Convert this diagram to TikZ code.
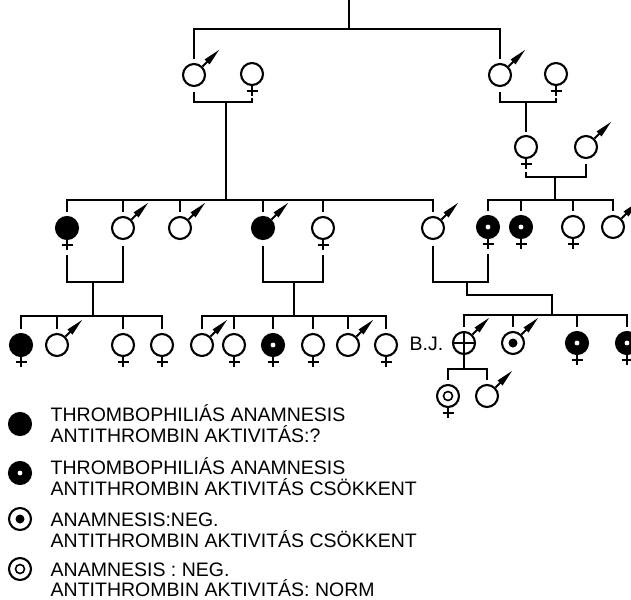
\documentclass[tikz,border=0pt]{standalone}
\usepackage{fontspec}
\setmainfont{Liberation Sans}

\begin{document}
\begin{tikzpicture}[x=1pt, y=-1pt, line width=1.4pt,
  ind/.style={circle, draw, line width=2.1pt, minimum size=22pt, inner sep=0pt},
  thrombo/.style={fill=black},
  reduced/.style={fill=black, path picture={\fill[white] (path picture bounding box.center) circle (2.4pt);}},
  carrier/.style={path picture={\fill (path picture bounding box.center) circle (4.5pt);}},
  normring/.style={path picture={\draw[line width=1.6pt] (path picture bounding box.center) circle (4.5pt);}},
  probandx/.style={path picture={\draw[line width=1.4pt] (path picture bounding box.north) -- (path picture bounding box.south) (path picture bounding box.west) -- (path picture bounding box.east);}},
  legtext/.style={anchor=base west, inner sep=0pt, font=\fontsize{19.5}{21}\selectfont}]
  \useasboundingbox (0,0) rectangle (631,599);

  % generation I
  \node[ind] (g1m1) at (194,75) {};
  \node[ind] (g1f1) at (252,74) {};
  \node[ind] (g1m2) at (500,75) {};
  \node[ind] (g1f2) at (556,74) {};
  % generation II
  \node[ind] (g2f) at (526,147) {};
  \node[ind] (g2m) at (586,147) {};
  % generation III
  \node[ind, thrombo] (a1) at (67,228) {};
  \node[ind] (a2) at (123,228) {};
  \node[ind] (a3) at (180,228) {};
  \node[ind, thrombo] (a4) at (263,228) {};
  \node[ind] (a5) at (323,228) {};
  \node[ind] (a6) at (433,228) {};
  \node[ind, reduced] (b1) at (488,227) {};
  \node[ind, reduced] (b2) at (521,227) {};
  \node[ind] (b3) at (573,227) {};
  \node[ind] (b4) at (613,227) {};
  % generation IV
  \node[ind, thrombo] (c1) at (21,345) {};
  \node[ind] (c2) at (57,345) {};
  \node[ind] (c3) at (123,345) {};
  \node[ind] (c4) at (162,345) {};
  \node[ind] (d1) at (202,345) {};
  \node[ind] (d2) at (234,345) {};
  \node[ind, reduced] (d3) at (273,345) {};
  \node[ind] (d4) at (313,345) {};
  \node[ind] (d5) at (348,345) {};
  \node[ind] (d6) at (386,345) {};
  \node[ind, probandx] (e1) at (464,343) {};
  \node[ind, carrier] (e2) at (513,343) {};
  \node[ind, reduced] (e3) at (577,343) {};
  \node[ind, reduced] (e4) at (627,343) {};
  \node[legtext, anchor=base east] (bj) at (444,350) {B.J.};
  % generation V
  \node[ind, normring] (f1) at (448,396) {};
  \node[ind] (f2) at (487,396) {};

  % sex marks: stem and dart for males, cross for females
  \foreach \n in {g1m1,g1m2,g2m,a2,a3,a4,a6,b4,c2,d1,d5,e1,e2,f2} {
    \draw[line width=1.9pt] (\n.45) -- ++(6,-6);
    \fill (\n.center) ++(15.5,-10.5) -- ++(-5,-5) -- ++(14.5,-9.5) -- cycle;
  }
  \foreach \n in {g1f1,g1f2,g2f,a1,a5,b1,b2,b3,c1,c3,c4,d2,d3,d4,d6,e3,e4,f1}
    \draw[line width=1.6pt] (\n.south) -- ++(0,10) (\n.south) ++(-5.5,5) -- ++(11,0);

  % lines of descent
  \coordinate (top) at (349,0);
  \coordinate (s0) at (349,29);
  \draw (top) -- (s0);
  \draw ([yshift=4pt]g1m1.north) |- (s0) -| ([yshift=4pt]g1m2.north);

  \coordinate (m1) at (226,102);
  \coordinate (s1) at (226,200);
  \draw ([yshift=-5pt]g1m1.south) |- (m1) -| ([yshift=-12pt]g1f1.south);
  \draw (m1) -- (s1);
  \draw ([yshift=4pt]a1.north) |- (s1) -| ([yshift=4pt]a6.north);
  \foreach \n in {a2,a3,a4,a5}
    \draw ([yshift=4pt]\n.north) -- (\n |- s1);

  \coordinate (m2) at (526,102);
  \draw ([yshift=-5pt]g1m2.south) |- (m2) -| ([yshift=-12pt]g1f2.south);
  \draw (m2) -- ([yshift=3pt]g2f.north);
  \coordinate (m3) at (555,177);
  \coordinate (s2) at (555,200);
  \draw ([yshift=-13pt]g2f.south) |- (m3) -| ([yshift=-5pt]g2m.south);
  \draw (m3) -- (s2);
  \draw ([yshift=4pt]b1.north) |- (s2) -| ([yshift=4pt]b4.north);
  \foreach \n in {b2,b3}
    \draw ([yshift=4pt]\n.north) -- (\n |- s2);

  \coordinate (m4) at (93,282);
  \coordinate (s3) at (93,316);
  \draw ([yshift=-15pt]a1.south) |- (m4) -| ([yshift=-6pt]a2.south);
  \draw (m4) -- (s3);
  \draw ([yshift=4pt]c1.north) |- (s3) -| ([yshift=4pt]c4.north);
  \foreach \n in {c2,c3}
    \draw ([yshift=4pt]\n.north) -- (\n |- s3);

  \coordinate (m5) at (294,282);
  \coordinate (s4) at (294,316);
  \draw ([yshift=-6pt]a4.south) |- (m5) -| ([yshift=-15pt]a5.south);
  \draw (m5) -- (s4);
  \draw ([yshift=4pt]d1.north) |- (s4) -| ([yshift=4pt]d6.north);
  \foreach \n in {d2,d3,d4,d5}
    \draw ([yshift=4pt]\n.north) -- (\n |- s4);

  \coordinate (m6) at (467,282);
  \coordinate (j6) at (467,295);
  \coordinate (s5) at (552,315);
  \draw ([yshift=-6pt]a6.south) |- (m6) -| ([yshift=-15pt]b1.south);
  \draw (m6) -- (j6) -| (s5);
  \draw ([yshift=4pt]e1.north) |- (s5) -| ([yshift=4pt]e4.north);
  \foreach \n in {e2,e3}
    \draw ([yshift=4pt]\n.north) -- (\n |- s5);

  \coordinate (m7) at (464,369);
  \draw (e1.south) -- (m7);
  \draw ([yshift=4pt]f1.north) |- (m7) -| ([yshift=4pt]f2.north);

  % key
  \node[ind, thrombo] (k1) at (20,424) {};
  \node[ind, reduced] (k2) at (20,473) {};
  \node[ind, carrier] (k3) at (20,519) {};
  \node[ind, normring] (k4) at (20,569) {};
  \node[legtext] (t1a) at (50,421) {THROMBOPHILIÁS ANAMNESIS};
  \node[legtext] (t1b) at (50,442) {ANTITHROMBIN AKTIVITÁS:?};
  \node[legtext] (t2a) at (50,474) {THROMBOPHILIÁS ANAMNESIS};
  \node[legtext] (t2b) at (50,495) {ANTITHROMBIN AKTIVITÁS CSÖKKENT};
  \node[legtext] (t3a) at (50,526) {ANAMNESIS:NEG.};
  \node[legtext] (t3b) at (50,547) {ANTITHROMBIN AKTIVITÁS CSÖKKENT};
  \node[legtext] (t4a) at (50,576) {ANAMNESIS : NEG.};
  \node[legtext] (t4b) at (50,596) {ANTITHROMBIN AKTIVITÁS: NORM};
\end{tikzpicture}
\end{document}
